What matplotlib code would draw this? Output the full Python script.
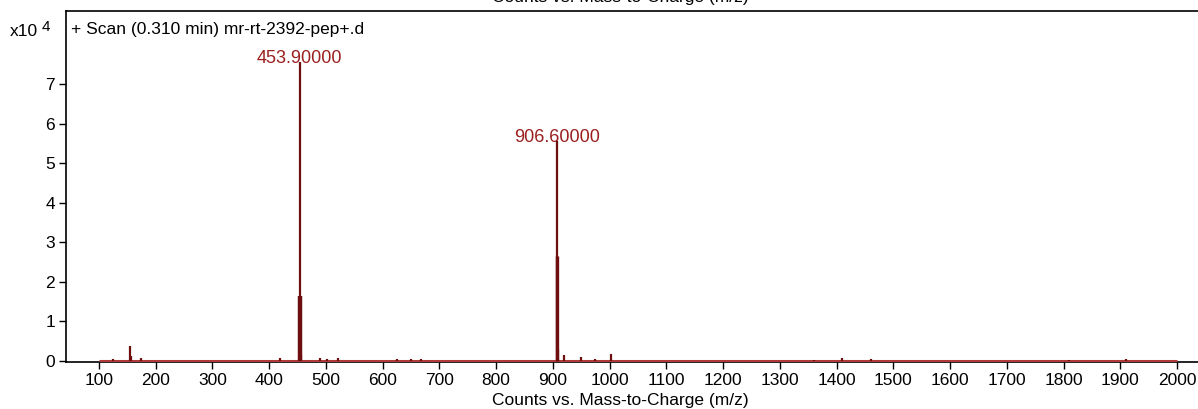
import matplotlib.pyplot as plt

plt.rcParams['font.family'] = ['Liberation Sans', 'DejaVu Sans']

# Peak list (m/z, counts in units of 1e4)
peak_mz = [125, 155, 157, 175, 420, 453.9, 454.9, 456.0, 490, 502, 522,
           625, 650, 668, 906.6, 907.6, 909, 920, 950, 975, 1003,
           1360, 1410, 1460, 1810, 1910]
peak_int = [0.05, 0.38, 0.12, 0.08, 0.06, 7.55, 1.63, 0.15, 0.06, 0.05, 0.06,
            0.04, 0.05, 0.05, 5.55, 2.64, 0.3, 0.15, 0.1, 0.05, 0.18,
            0.03, 0.06, 0.04, 0.03, 0.04]
labelled_mz = [453.9, 906.6]
labelled_int = [7.55, 5.55]
scan_range = [100, 2000]
x_ticks = list(range(100, 2001, 100))
y_ticks = [0, 1, 2, 3, 4, 5, 6, 7]

fig = plt.figure(figsize=(11.98, 4.09), dpi=100)
ax = fig.add_axes([66 / 1198, 1 - 362 / 409, 1 - 66 / 1198, 351 / 409])

line_col = '#6e0e0e'
base_col = '#b03a3a'

ax.plot(scan_range, [0, 0], color=base_col, lw=2.2, solid_capstyle='butt', zorder=3)
ax.vlines(peak_mz, 0, peak_int, color=line_col, lw=1.6, zorder=4)
# isotope shoulders look thicker in the original
ax.vlines(peak_mz[6], 0, peak_int[6], color=line_col, lw=3.2, zorder=4)
ax.vlines(peak_mz[15], 0, peak_int[15], color=line_col, lw=2.4, zorder=4)

for mz, h in zip(labelled_mz, labelled_int):
    ax.annotate(f'{mz:.5f}', (mz, h), xytext=(0, -3), textcoords='offset points',
                ha='center', va='bottom', color='#9b1f1f', fontsize=13)

ax.set_xlim(42, 2037)
ax.set_ylim(-0.03, 8.85)
ax.set_xticks(x_ticks)
ax.set_yticks(y_ticks)
ax.tick_params(axis='both', direction='out', length=5, width=1, labelsize=12.5, pad=3)
ax.spines['right'].set_visible(False)
for s in ['left', 'top', 'bottom']:
    ax.spines[s].set_linewidth(1.2)

ax.text(0.004, 0.968, '+ Scan (0.310 min) mr-rt-2392-pep+.d', transform=ax.transAxes,
        ha='left', va='top', fontsize=12.5)
fig.text(10 / 1198, 1 - 32 / 409, 'x10', ha='left', va='center', fontsize=12.5)
fig.text(42 / 1198, 1 - 27 / 409, '4', ha='left', va='center', fontsize=11)
fig.text(620 / 1198, 1 - 401 / 409, 'Counts vs. Mass-to-Charge (m/z)', ha='center',
         va='center', fontsize=12.5)
fig.text(620 / 1198, 1.005, 'Counts vs. Mass-to-Charge (m/z)', ha='center',
         va='center', fontsize=12.5)

fig.savefig('out.png', dpi=100)
